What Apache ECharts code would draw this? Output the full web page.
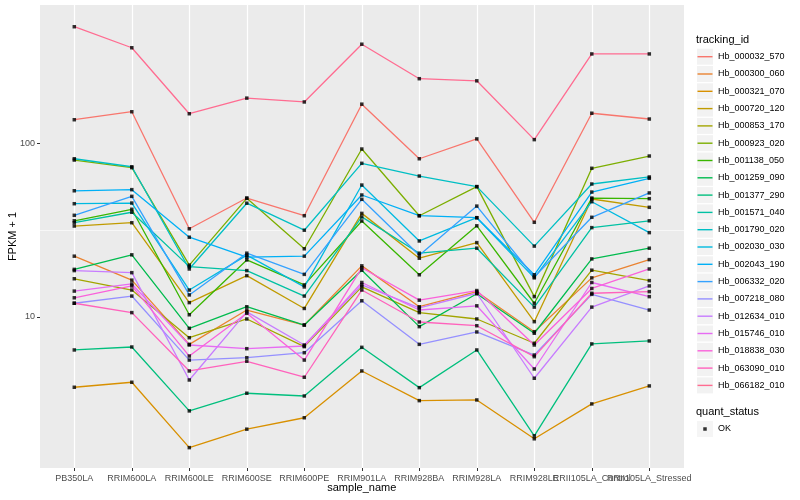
<!DOCTYPE html>
<html><head><meta charset="utf-8">
<script src="https://cdn.jsdelivr.net/npm/echarts@6.0.0/dist/echarts.min.js"></script>
<style>html,body{margin:0;padding:0;background:#fff}#c{width:800px;height:500px}</style>
</head><body><div id="c"></div>
<script>
const samples = ['PB350LA','RRIM600LA','RRIM600LE','RRIM600SE','RRIM600PE','RRIM901LA','RRIM928BA','RRIM928LA','RRIM928LE','RRII105LA_Control','RRII105LA_Stressed'];
const genes = ['Hb_000032_570','Hb_000300_060','Hb_000321_070','Hb_000720_120','Hb_000853_170','Hb_000923_020','Hb_001138_050','Hb_001259_090','Hb_001377_290','Hb_001571_040','Hb_001790_020','Hb_002030_030','Hb_002043_190','Hb_006332_020','Hb_007218_080','Hb_012634_010','Hb_015746_010','Hb_018838_030','Hb_063090_010','Hb_066182_010'];
const colors = ['#F8766D','#EA8331','#D89000','#C09B00','#A3A500','#7CAE00','#39B600','#00BB4E','#00BF7D','#00C1A3','#00BFC4','#00BAE0','#00B0F6','#35A2FF','#9590FF','#C77CFF','#E76BF3','#FA62DB','#FF62BC','#FF6C91'];
const yTicks = [10, 100];
const yMinor = [3.1623, 31.623, 316.23];

// FPKM + 1 per sample, one array per gene
const hb_000032_570 = [136.7, 152, 32.2, 48.4, 38.3, 168, 81.5, 106, 35.1, 149, 138];
const hb_000300_060 = [22.4, 16.3, 6.96, 10.97, 8.99, 19.7, 11.46, 13.98, 8.23, 16.8, 21.4];
const hb_000321_070 = [3.94, 4.21, 1.77, 2.26, 2.63, 4.89, 3.30, 3.33, 1.99, 3.16, 4.01];
const hb_000720_120 = [33.4, 34.9, 12.1, 17.3, 11.2, 39.5, 21.8, 26.8, 9.4, 47.8, 42.8];
const hb_000853_170 = [16.6, 14.3, 7.6, 9.74, 6.75, 14.9, 10.6, 9.74, 7.06, 18.6, 16.2];
const hb_000923_020 = [80.1, 72.4, 19.9, 48.2, 24.7, 92.7, 38.3, 56.3, 13.1, 71.8, 84.5];
const hb_001138_050 = [35.8, 41.7, 10.3, 21.3, 15.3, 35.7, 17.5, 33.5, 12.0, 48.4, 48.0];
const hb_001259_090 = [18.8, 22.8, 8.61, 11.46, 8.99, 18.6, 8.8, 13.6, 8.06, 21.6, 24.9];
const hb_001377_290 = [6.46, 6.72, 2.88, 3.64, 3.51, 6.69, 3.92, 6.46, 2.07, 7.0, 7.28];
const hb_001571_040 = [34.9, 40.1, 19.5, 18.5, 13.2, 37.7, 23.3, 24.9, 11.4, 32.7, 35.8];
const hb_001790_020 = [81.5, 73.3, 18.9, 45.2, 31.6, 76.7, 64.8, 56.3, 25.6, 58.3, 64.0];
const hb_002030_030 = [44.9, 45.3, 14.3, 22.7, 14.9, 57.5, 27.4, 37.3, 16.8, 46.1, 30.6];
const hb_002043_190 = [53.3, 54.1, 28.8, 22.1, 22.4, 50.4, 38.3, 37.3, 17.5, 52.4, 62.9];
const hb_006332_020 = [38.5, 49.5, 13.4, 23.3, 17.6, 47.6, 22.7, 43.5, 17.0, 37.5, 51.8];
const hb_007218_080 = [12.0, 13.2, 5.65, 5.83, 6.23, 12.4, 6.96, 8.2, 6.04, 13.5, 10.97];
const hb_012634_010 = [18.5, 18.0, 4.34, 10.7, 6.9, 15.3, 11.3, 13.7, 4.44, 11.4, 15.1];
const hb_015746_010 = [14.1, 15.5, 6.9, 6.57, 6.81, 15.8, 10.97, 11.6, 5.02, 15.8, 13.1];
const hb_018838_030 = [12.9, 15.1, 5.96, 10.5, 5.65, 19.2, 12.5, 14.2, 6.9, 14.6, 18.9];
const hb_063090_010 = [12.0, 10.6, 4.89, 5.56, 4.5, 14.3, 9.36, 8.91, 5.91, 13.7, 14.0];
const hb_066182_010 = [469, 355, 148, 182, 173, 372, 235.5, 229, 105, 327, 327];

const values = [hb_000032_570, hb_000300_060, hb_000321_070, hb_000720_120, hb_000853_170, hb_000923_020, hb_001138_050, hb_001259_090, hb_001377_290, hb_001571_040, hb_001790_020, hb_002030_030, hb_002043_190, hb_006332_020, hb_007218_080, hb_012634_010, hb_015746_010, hb_018838_030, hb_063090_010, hb_066182_010];

const FONT = 'Liberation Sans, Arial, sans-serif';
const Y_MIN = 1.351, Y_MAX = 625.6;

const lineSeries = genes.map((g, i) => ({
  name: g, type: 'line', xAxisIndex: 1, yAxisIndex: 1,
  data: values[i], symbol: 'none', showSymbol: false,
  lineStyle: { color: colors[i], width: 1.3 },
  itemStyle: { color: colors[i] },
  z: 2, animation: false
}));
const okPoints = [];
values.forEach(arr => arr.forEach((v, j) => okPoints.push([samples[j], v])));

const chart = echarts.init(document.getElementById('c'), null, { renderer: 'canvas' });
chart.setOption({
  animation: false,
  textStyle: { fontFamily: FONT },
  title: [
    { text: 'tracking_id', left: 696, top: 34, padding: 0, textStyle: { fontSize: 11, fontWeight: 'normal', color: '#000', fontFamily: FONT } },
    { text: 'quant_status', left: 696, top: 406, padding: 0, textStyle: { fontSize: 11, fontWeight: 'normal', color: '#000', fontFamily: FONT } }
  ],
  grid: [
    { left: 40, right: 116, top: 5, bottom: 32, show: true, backgroundColor: '#EBEBEB', borderWidth: 0, outerBoundsMode: 'none' },
    { left: 74.3, right: 150.7, top: 5, bottom: 32, show: false, outerBoundsMode: 'none' }
  ],
  xAxis: [
    { type: 'value', gridIndex: 0, min: 0, max: 1, show: false },
    { type: 'category', gridIndex: 1, data: samples, boundaryGap: false,
      name: 'sample_name', nameLocation: 'middle', nameGap: 14, nameMoveOverlap: false,
      nameTextStyle: { fontSize: 11, color: '#000', fontFamily: FONT },
      axisLine: { show: false },
      axisTick: { show: true, length: 3, lineStyle: { color: '#333', width: 1 } },
      axisLabel: { interval: 0, hideOverlap: false, margin: 6, fontSize: 9, color: '#4D4D4D', fontFamily: FONT },
      splitLine: { show: true, lineStyle: { color: '#FFFFFF', width: 1.2 } } }
  ],
  yAxis: [
    { type: 'log', logBase: 10, gridIndex: 0, min: Y_MIN, max: Y_MAX,
      name: 'FPKM + 1', nameLocation: 'middle', nameGap: 22, nameMoveOverlap: false,
      nameTextStyle: { fontSize: 11, color: '#000', fontFamily: FONT },
      axisLine: { show: false },
      axisTick: { show: true, length: 3, customValues: yTicks, lineStyle: { color: '#333', width: 1 } },
      axisLabel: { show: true, customValues: yTicks, margin: 5, fontSize: 9, color: '#4D4D4D', fontFamily: FONT },
      splitLine: { show: true, showMinLine: false, showMaxLine: false, lineStyle: { color: '#FFFFFF', width: 1.2 } } },
    { type: 'log', logBase: 10, gridIndex: 1, min: Y_MIN, max: Y_MAX, show: false, splitLine: { show: false } },
    { type: 'log', logBase: 10, gridIndex: 0, min: Y_MIN, max: Y_MAX,
      axisLine: { show: false }, axisLabel: { show: false },
      axisTick: { show: false, customValues: yMinor },
      splitLine: { show: true, showMinLine: false, showMaxLine: false, lineStyle: { color: '#FFFFFF', width: 0.6 } } }
  ],
  legend: [
    { id: 'keyBg', data: genes, orient: 'vertical', left: 697, top: 48.7, padding: 0,
      itemWidth: 16, itemHeight: 16, itemGap: 1.3, icon: 'rect', selectedMode: false,
      itemStyle: { color: '#F2F2F2', borderWidth: 0, borderColor: '#F2F2F2' },
      textStyle: { color: 'rgba(0,0,0,0)', fontSize: 9, fontFamily: FONT }, z: 3 },
    { id: 'keyLine', data: genes, orient: 'vertical', left: 697, top: 48.7, padding: 0,
      itemWidth: 16, itemHeight: 16, itemGap: 1.3, icon: 'path://M0,0L0,0M0.5,7.3L15.5,7.3L15.5,8.7L0.5,8.7ZM16,16L16,16', selectedMode: false,
      itemStyle: { borderWidth: 0 },
      textStyle: { color: '#000', fontSize: 9, fontFamily: FONT }, z: 4 },
    { id: 'okBg', data: ['OK'], orient: 'vertical', left: 697, top: 421, padding: 0,
      itemWidth: 16, itemHeight: 16, icon: 'rect', selectedMode: false,
      itemStyle: { color: '#F2F2F2', borderWidth: 0, borderColor: '#F2F2F2' },
      textStyle: { color: 'rgba(0,0,0,0)', fontSize: 9, fontFamily: FONT }, z: 3 },
    { id: 'okKey', data: ['OK'], orient: 'vertical', left: 697, top: 421, padding: 0,
      itemWidth: 16, itemHeight: 16, icon: 'path://M0,0L0,0M6.25,6.25L9.75,6.25L9.75,9.75L6.25,9.75ZM16,16L16,16', selectedMode: false,
      itemStyle: { borderWidth: 0 },
      textStyle: { color: '#000', fontSize: 9, fontFamily: FONT }, z: 4 }
  ],
  series: lineSeries.concat([
    { name: 'OK', type: 'scatter', xAxisIndex: 1, yAxisIndex: 1, data: okPoints,
      symbol: 'rect', symbolSize: 3.5, itemStyle: { color: '#000' }, z: 3, animation: false }
  ])
});
</script>
</body></html>
